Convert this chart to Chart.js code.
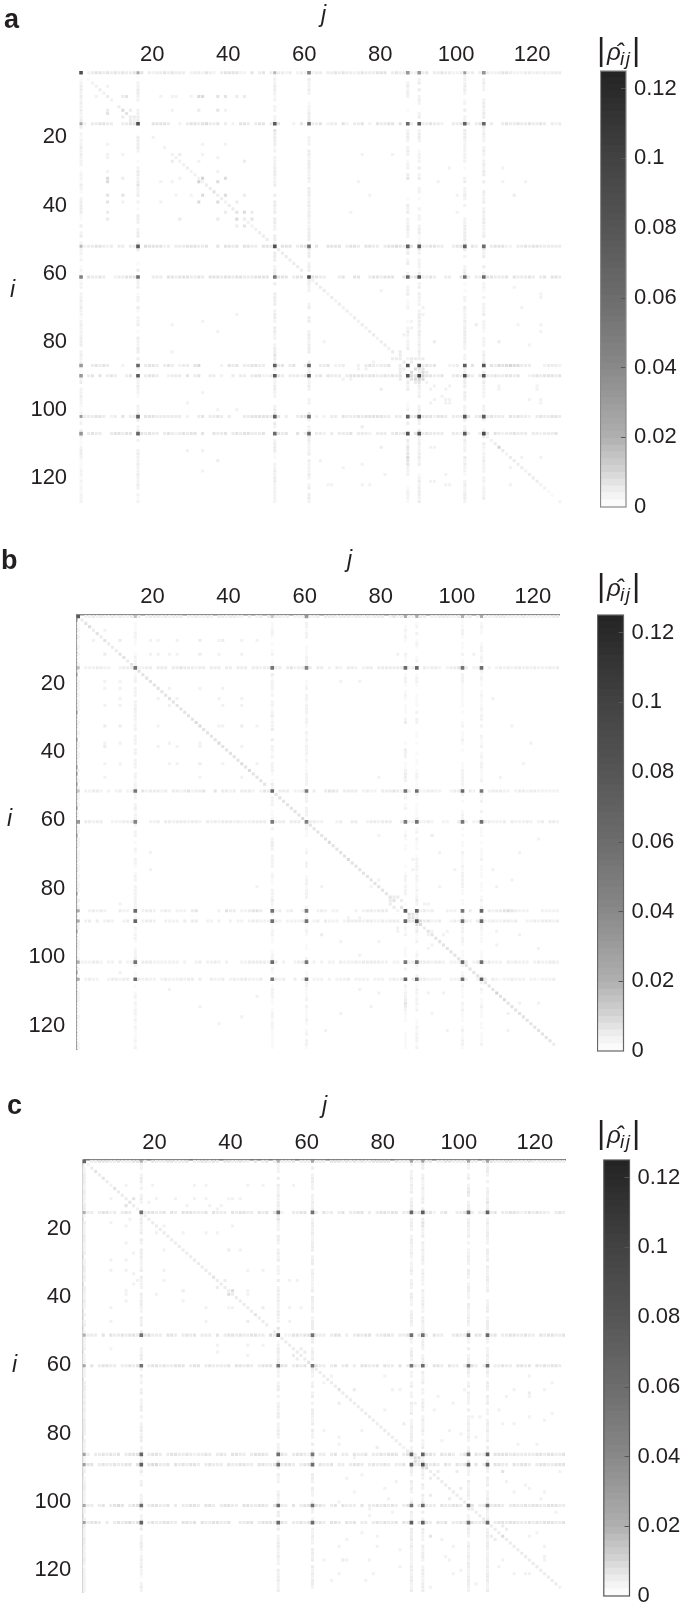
<!DOCTYPE html>
<html>
<head>
<meta charset="utf-8">
<script src="https://cdn.jsdelivr.net/npm/chart.js@4/dist/chart.umd.min.js"></script>
<style>
html,body{margin:0;padding:0;background:#fff;}
#page{position:relative;width:685px;height:1608px;overflow:hidden;font-family:"Liberation Sans",Arial,sans-serif;color:#231f20;}
canvas{position:absolute;filter:blur(0.5px);}
.letter{position:absolute;font-weight:bold;font-size:27px;line-height:27px;}
.axt{position:absolute;font-style:italic;font-size:23px;line-height:23px;}
.cbt{position:absolute;height:32px;width:44px;font-size:32px;line-height:30px;white-space:nowrap;}
.cbt span{position:absolute;}
.cbt .r{font-style:italic;font-size:24px;left:10px;top:1px;line-height:34px;}
.cbt .s{font-style:italic;font-size:19px;left:23px;top:14px;line-height:22px;letter-spacing:1.5px;}
</style>
</head>
<body>
<div id="page"></div>
<script>
// ---------- values ----------
const tickValuesX = [20, 40, 60, 80, 100, 120];
const tickValuesY = [20, 40, 60, 80, 100, 120];
const colorbarTicks = [0, 0.02, 0.04, 0.06, 0.08, 0.1, 0.12];
const colorbarMax = 0.125;
const matrixSize = 127;
const levelUnit = 0.0017;
const hubs = [1, 16, 52, 61, 87, 90, 102, 107];

// upper triangles of the hub x hub cells
const hubGridA = [
 [0.085,0.024,0.018,0.045,0.032,0.032,0.030,0.034],
 [0.085,0.075,0.058,0.062,0.075,0.070,0.065],
 [0.085,0.052,0.070,0.075,0.070,0.060],
 [0.090,0.065,0.080,0.056,0.060],
 [0.082,0.082,0.072,0.080],
 [0.092,0.085,0.080],
 [0.078,0.075],
 [0.092]];
const hubGridB = [
 [0.075,0.016,0.014,0.032,0.022,0.022,0.020,0.022],
 [0.056,0.054,0.044,0.062,0.066,0.056,0.060],
 [0.062,0.050,0.056,0.058,0.062,0.052],
 [0.046,0.050,0.056,0.052,0.058],
 [0.072,0.064,0.052,0.066],
 [0.082,0.056,0.062],
 [0.060,0.058],
 [0.068]];
const hubGridC = [
 [0.064,0.020,0.020,0.026,0.026,0.028,0.024,0.026],
 [0.058,0.056,0.056,0.066,0.072,0.062,0.070],
 [0.078,0.056,0.058,0.058,0.058,0.062],
 [0.052,0.052,0.060,0.056,0.060],
 [0.068,0.066,0.056,0.072],
 [0.082,0.062,0.068],
 [0.062,0.056],
 [0.062]];

// one line of levels per hub: the cells along its row; its column reads one level fainter
const stripesA = [
 "0023443434 3433444032 3343433302 3324320344 4422040340 3433230232 0233033434 3323433344 4034333223 3403343322 3323034322 3443222332 3232333",
 "0203344330 0334400004 4443002034 4345334030 2044303440 3440002040 0334023304 2033402043 3440403304 3343320033 4040340030 0343343343 3430323",
 "0233443230 3303300544 4423033344 4334004044 3404433044 3004440344 0040044440 3443044330 3445434400 3344330034 4304303034 4422033434 4333333",
 "0043343002 3344450003 3304434443 3430444344 3443334444 0344403440 3443300034 0044003443 4440045344 3343003300 4330334443 3340433343 0340443",
 "0003434300 0200020344 3034302330 4500000204 3403344330 0034034003 0003340223 0002034323 3400304005 3434000223 0004003043 5456553330 0023332",
 "0034040343 0034040344 3002333040 3400330200 3033034422 3343033324 0034043330 3444434433 4343400545 4443340034 3043043334 3344340023 4344434",
 "0333443023 0403300444 3333333020 0340334303 0003344444 3340300344 0020203304 3334344444 3303304343 4442443033 3040343343 3304343320 3433443",
 "0034330034 4344004343 3034323434 4040043340 3434433340 0343400403 4033203033 3403332033 3034344043 3433330033 2030033404 3233433303 3233340"];
const stripesB = [
 "0022323223 2322333023 3323233302 2322320332 3322030230 3233230222 0223033323 3323323233 3024233222 3302233322 3223023222 3332222322 2222233",
 "0022233220 0233302233 0333033433 3233033303 3033303323 3033034233 0303302032 0332023303 3333330232 0323320233 4030220020 2323233232 3222323",
 "0022332020 2302200423 3323033234 2334004033 2303332024 3003330223 0030034430 3333023220 3334324300 2233220023 3203202023 3322023323 3222222",
 "0033233002 2233340002 2303323332 3320323233 3232223333 0233303330 3332200023 0033002332 3330034233 2232002200 3220223332 2230322232 0230332",
 "0002323200 0322030233 2023202220 3400000204 3302234430 0023023002 0002320220 0002023323 3300203004 2323000222 0003002032 3345432220 0022222",
 "0023030232 0023030233 2002222030 3300220200 2022023322 2232022223 0023032220 2333323322 3232300444 4342230023 2032032223 2233230022 3233323",
 "0222332022 0302200333 2222222020 0230223202 0002233333 2230200233 0020202203 2223233333 2202203232 3332332022 2030232232 2203232220 2322332",
 "0023220023 3233003232 2023222323 3030032230 2323322230 0232300302 3022202022 2302222022 2023233032 3322220022 2020022303 2122322202 2122230"];
const stripesC = [
 "0033444334 3334443043 3344333403 3443430443 3433040340 3433340333 0333044434 3434334444 4043333333 3403344333 3333043433 3443333432 3333333",
 "0330344230 3430043443 3404304443 3340433304 3443304340 4420033440 3304230340 3344030344 3440330344 3420340033 4030330340 3344323434 3320343",
 "0333040433 4344334533 3044303434 0333040344 3433443305 3302344344 0333034403 0343440334 4303340043 3043300343 3404403340 3344334330 4344334",
 "0040344330 3343440344 3433444034 4034333340 4434303444 0344034340 4433034034 0304433404 3304034433 2044304330 3343034033 4330443404 3434430",
 "0303343434 0344430344 3034433432 3343034304 4330344430 0443034432 3033034033 0433403343 4440343305 4430434302 4304334044 4434333334 4344334",
 "0440343343 3440440455 3340434344 3034333043 3443304433 4334430344 3043340330 3443034334 3033403345 4343043043 4304034044 3304344303 4433444",
 "0330340345 4034430344 3340303344 3044303443 3044334430 4433040344 3443034043 3304033434 3430343044 3330433443 0340334344 3034334344 3344433",
 "0344303034 3453400343 3443304434 0433443340 0334403444 3343033434 0343044304 3403303434 3340433044 4304340334 3443340034 4344333434 3444334"];

// the main diagonal
const diagonalA = "0012232320 3243220002 0020222232 2223343323 3403222333 0233333330 2233323232 3232323323 3230333000 2200022200 0200000223 3323333233 3221100";
const diagonalB = "0345343433 3443404444 4444444444 4544444544 4444454444 0444444445 0444445444 4544444444 4444045444 4444444444 4044444444 4454444444 4444430";
const diagonalC = "0234343343 3343203333 3333333333 3333433333 3333343330 3333333334 0333333433 3333333333 3333033333 3333333333 3033333333 3333333333 3333320";

// isolated cells [i, j, level]
const cellsA = [[8,8,3],[8,12,3],[8,13,4],[8,33,5],[8,39,4],[8,44,3],[8,30,2],[8,26,2],[8,5,2],[12,8,3],[12,12,5],[12,14,3],[12,25,2],[12,39,2],[15,14,3],[32,8,5],[32,12,3],[32,33,6],[32,39,5],[32,27,2],[37,8,4],[37,12,4],[37,33,5],[37,39,5],[37,44,3],[37,30,2],[37,26,2],[42,8,3],[42,39,3],[42,44,5],[42,46,3],[44,46,4],[44,44,3],[22,8,2],[22,33,2],[22,39,2],[25,12,2],[25,8,2],[25,33,2],[27,44,3],[27,25,3],[33,74,2],[37,77,2],[37,100,2],[33,95,2],[29,98,2],[29,112,2],[33,112,2],[33,118,2],[25,75,2],[25,83,2],[37,115,3],[42,72,2],[42,100,2],[65,80,2],[80,111,3],[111,111,6],[111,80,3],[111,94,2],[75,105,3],[75,116,2],[75,122,2],[77,122,2],[80,94,3],[81,119,2],[93,94,2],[93,98,2],[93,111,2],[93,121,2],[97,94,2],[97,98,2],[97,119,2],[97,122,2],[115,64,2],[117,70,2],[122,66,2],[122,67,2],[121,94,2],[122,98,2],[122,114,2],[117,114,2],[122,122,2],[127,127,2],[88,89,5],[89,88,5],[91,90,6],[91,91,5],[92,90,4],[88,91,4],[89,91,5],[88,85,3],[89,85,3],[91,85,3],[89,92,3],[84,85,3],[83,85,3],[78,86,2],[86,88,3],[88,74,2],[88,76,2],[91,72,2],[91,70,2]];
const cellsB = [[8,8,4],[8,33,3],[12,12,4],[33,8,3],[33,33,5],[38,38,5],[44,44,5],[8,5,2],[8,12,2],[8,20,2],[8,27,2],[8,39,3],[8,44,2],[12,8,3],[12,20,2],[12,25,2],[12,33,2],[12,44,2],[22,8,2],[22,12,2],[22,25,2],[22,33,2],[22,39,2],[27,8,2],[27,12,2],[27,25,2],[27,39,2],[27,44,2],[33,12,3],[33,39,2],[38,8,2],[38,12,2],[38,25,2],[38,33,2],[44,8,2],[44,12,2],[44,25,2],[44,33,3],[44,39,2],[48,8,2],[48,33,2],[48,44,2],[65,94,3],[65,80,2],[70,96,2],[75,100,2],[75,110,2],[80,78,2],[80,96,2],[84,90,3],[83,85,3],[93,94,2],[93,98,2],[93,111,2],[97,94,2],[97,111,2],[111,111,6],[111,80,2],[111,90,2],[115,78,2],[117,70,2],[117,94,2],[117,114,2],[122,66,2],[122,98,2],[122,114,2],[20,70,2],[20,75,2],[25,110,2],[33,115,2],[38,120,2],[44,118,2],[12,85,2],[12,105,2],[48,80,2],[48,112,2],[88,88,5],[89,88,5],[88,89,4],[91,90,5],[91,91,5],[85,83,3],[84,83,3],[86,84,3],[89,75,2],[89,72,2],[92,92,3],[93,85,2],[92,85,2]];
const cellsC = [[14,12,4],[40,39,5],[36,38,3],[33,33,3],[8,8,2],[8,19,2],[8,33,2],[8,44,2],[8,56,2],[12,8,2],[12,20,2],[12,33,2],[12,39,2],[12,42,2],[13,18,2],[14,28,2],[14,34,2],[14,37,2],[22,20,2],[22,33,2],[25,12,2],[27,22,2],[27,39,3],[27,42,2],[30,8,2],[30,12,2],[33,8,2],[33,22,2],[33,44,2],[36,15,2],[36,22,2],[36,55,2],[36,57,2],[40,12,2],[40,20,2],[40,44,2],[44,33,2],[44,39,2],[44,55,2],[44,58,2],[48,8,2],[48,33,2],[48,44,3],[48,55,2],[55,52,2],[56,58,3],[57,59,3],[66,64,2],[68,72,3],[68,84,2],[72,88,2],[68,101,2],[68,114,2],[68,122,2],[74,80,2],[74,93,2],[76,103,2],[76,105,2],[76,118,2],[77,122,2],[78,111,2],[78,114,2],[80,64,2],[82,68,2],[85,78,3],[88,88,5],[89,88,6],[88,89,5],[91,90,5],[91,91,5],[92,94,3],[92,111,4],[92,99,3],[95,83,2],[97,100,3],[100,81,2],[108,111,3],[109,112,3],[111,111,5],[111,118,2],[114,98,2],[114,122,2],[118,64,2],[118,69,3],[118,70,2],[122,98,2],[122,114,2],[122,117,2],[122,118,2],[124,66,2],[124,75,2],[75,75,3],[70,70,3],[85,85,2],[70,94,2],[72,98,2],[74,110,2],[80,97,2],[82,104,2],[84,120,2],[95,112,2],[97,118,2],[100,121,2],[112,70,2],[115,84,2],[117,96,2],[120,110,2],[125,104,2],[126,92,2]];

// colormap of the colour bar
const colorStops = [0, 0.005, 0.01, 0.02, 0.04, 0.06, 0.08, 0.1, 0.125];
const colorGrays = [255, 236, 212, 175, 136, 108, 85, 66, 35];

// ---------- layout of the three panels ----------
const panels = [
 {letter:"a", lx:4, ly:6, jx:321, jy:3, ix:10, iy:278, labelOffset:-1, labelOffsetY:0,
  left:79.1, right:561.7, top:71, bottom:505.3, canvasTop:30, tickPadX:3, tickPadY:12, xBorder:"rgba(0,0,0,0)", yBorder:"rgba(0,0,0,0)",
  cbL:600.5, cbR:626, cbT:70.7, cbB:506.4, cbBorder:"#8a8a8a", cbtX:597, cbtY:34,
  hub:hubGridA, stripes:stripesA, diag:diagonalA, cells:cellsA},
 {letter:"b", lx:1, ly:547, jx:347, jy:548, ix:7, iy:807, labelOffset:2, labelOffsetY:2,
  left:76.3, right:559.5, top:614.8, bottom:1051.2, canvasTop:570, tickPadX:5, tickPadY:11, xBorder:"#8c8c8c", yBorder:"#8c8c8c",
  cbL:597.5, cbR:623.5, cbT:614.8, cbB:1050.7, cbBorder:"#666", cbtX:597, cbtY:570,
  hub:hubGridB, stripes:stripesB, diag:diagonalB, cells:cellsB},
 {letter:"c", lx:7, ly:1092, jx:322, jy:1094, ix:12, iy:1353, labelOffset:-2, labelOffsetY:3,
  left:82.3, right:565.5, top:1159.6, bottom:1594.6, canvasTop:1115, tickPadX:3, tickPadY:11, xBorder:"#777", yBorder:"#cfcfcf",
  cbL:603.8, cbR:629.5, cbT:1160, cbB:1595.7, cbBorder:"#555", cbtX:597, cbtY:1117,
  hub:hubGridC, stripes:stripesC, diag:diagonalC, cells:cellsC}
];
const FONT = {family:'"Liberation Sans", Arial, sans-serif', size:22};
const TEXT = "#231f20";

function grayOf(v){
  const c = Math.min(v, colorStops[colorStops.length-1]);
  for (let k = 1; k < colorStops.length; k++) {
    if (c <= colorStops[k]) {
      const t = (c - colorStops[k-1]) / (colorStops[k] - colorStops[k-1]);
      return Math.round(colorGrays[k-1] + t * (colorGrays[k] - colorGrays[k-1]));
    }
  }
  return colorGrays[colorGrays.length-1];
}
function colorOf(v){ const g = grayOf(v); return `rgb(${g},${g},${g})`; }

function buildCells(p){
  const m = new Map();
  const one = (i,j,v) => { if (v > 0 && i <= matrixSize && j <= matrixSize) m.set(i+","+j, v); };
  const both = (i,j,v) => { one(i,j,v); one(j,i,v); };
  p.stripes.forEach((line, h) => {
    const levels = line.replace(/ /g, "");
    for (let k = 0; k < levels.length; k++) {
      const level = Number(levels[k]);
      one(hubs[h], k+1, level * levelUnit);
      one(k+1, hubs[h], Math.max(level - 1, 0) * levelUnit);
    }
  });
  const d = p.diag.replace(/ /g, "");
  for (let k = 0; k < d.length; k++) one(k+1, k+1, Number(d[k]) * levelUnit);
  p.cells.forEach(c => both(c[0], c[1], c[2] * levelUnit));
  p.hub.forEach((row, a) => row.forEach((v, b) => both(hubs[a], hubs[a+b], v)));
  const out = [];
  m.forEach((v, key) => { const s = key.split(","); out.push({x:+s[1], y:+s[0], v}); });
  out.sort((a,b) => a.v - b.v);
  return out;
}

const page = document.getElementById("page");
function addCanvas(left, top, w, h){
  const c = document.createElement("canvas");
  c.width = w; c.height = h;
  c.style.left = left + "px"; c.style.top = top + "px";
  c.style.width = w + "px"; c.style.height = h + "px";
  page.appendChild(c);
  return c;
}
function addDiv(cls, x, y, html){
  const d = document.createElement("div");
  d.className = cls; d.style.left = x + "px"; d.style.top = y + "px";
  d.innerHTML = html; page.appendChild(d); return d;
}
function noPad(s){ s.paddingLeft = s.paddingRight = s.paddingTop = s.paddingBottom = 0; }
const radiusOf = ctx => (ctx.raw && ctx.raw.v > 0.03) ? 2.6 : 2.15;

panels.forEach(p => {
  // heat map
  const cw = Math.ceil(p.right) + 22;
  const ch = Math.ceil(p.bottom - p.canvasTop);
  new Chart(addCanvas(0, p.canvasTop, cw, ch), {
    type: "scatter",
    data: {datasets: [{
      data: buildCells(p),
      pointStyle: "rect",
      pointRadius: radiusOf,
      pointHoverRadius: radiusOf,
      pointBorderWidth: 0,
      backgroundColor: ctx => colorOf(ctx.raw ? ctx.raw.v : 0)
    }]},
    options: {
      responsive: false, animation: false, devicePixelRatio: 1, parsing: false, normalized: true,
      layout: {padding: {left:0, top:0, right: cw - p.right, bottom: ch - (p.bottom - p.canvasTop)}},
      plugins: {legend: {display:false}, tooltip: {enabled:false}},
      scales: {
        x: {type:"linear", position:"top", min:0.5, max:matrixSize+0.5,
            grid:{display:false, drawTicks:false},
            border:{display:true, color:p.xBorder, width:1.5},
            afterFit: s => { s.height = p.top - p.canvasTop; noPad(s); },
            afterBuildTicks: s => { s.ticks = tickValuesX.map(v => ({value:v})); },
            ticks:{autoSkip:false, maxRotation:0, minRotation:0, padding:p.tickPadX, labelOffset:p.labelOffset, font:FONT, color:TEXT, callback:v => String(v)}},
        y: {type:"linear", reverse:true, min:0.5, max:matrixSize+0.5,
            grid:{display:false, drawTicks:false},
            border:{display:true, color:p.yBorder, width:1.5},
            afterFit: s => { s.width = p.left; noPad(s); },
            afterBuildTicks: s => { s.ticks = tickValuesY.map(v => ({value:v})); },
            ticks:{autoSkip:false, padding:p.tickPadY, labelOffset:p.labelOffsetY, font:FONT, color:TEXT, callback:v => String(v)}}
      }
    }
  });

  // colour bar
  const pad = 15;
  const bands = [];
  const nBands = 64;
  for (let k = 0; k < nBands; k++) {
    const lo = colorbarMax * k / nBands, hi = colorbarMax * (k+1) / nBands;
    bands.push({data:[[lo, Math.min(colorbarMax, hi + 0.0002)]], backgroundColor:colorOf((lo+hi)/2), borderWidth:0,
                categoryPercentage:1, barPercentage:1, grouped:false});
  }
  const barCw = 685 - Math.floor(p.cbL);
  const offL = p.cbL - Math.floor(p.cbL);
  const barCh = Math.round(p.cbB - p.cbT) + 2*pad;
  new Chart(addCanvas(Math.floor(p.cbL), p.cbT - pad, barCw, barCh), {
    type: "bar",
    data: {labels:[""], datasets: bands},
    options: {
      responsive:false, animation:false, devicePixelRatio:1,
      layout:{padding:{left:offL, top:pad, bottom:pad, right:0}},
      plugins:{legend:{display:false}, tooltip:{enabled:false}},
      scales:{
        x:{display:false, stacked:false, grid:{display:false}},
        y:{position:"right", min:0, max:colorbarMax,
           grid:{display:false, drawTicks:false}, border:{display:false},
           afterFit: s => { s.width = 685 - p.cbR; noPad(s); },
           afterBuildTicks: s => { s.ticks = colorbarTicks.map(v => ({value:v})); },
           ticks:{autoSkip:false, padding:8, font:FONT, color:TEXT, callback:v => String(v)}}
      }
    },
    plugins:[{id:"frame", afterDraw(chart){
      const {ctx, chartArea:a, scales:{y}} = chart;
      ctx.save();
      ctx.strokeStyle = "#555"; ctx.lineWidth = 1;
      colorbarTicks.forEach(v => {
        if (v === 0) return;
        const py = Math.round(y.getPixelForValue(v)) + 0.5;
        ctx.beginPath(); ctx.moveTo(a.right - 5, py); ctx.lineTo(a.right, py); ctx.stroke();
      });
      ctx.strokeStyle = p.cbBorder; ctx.lineWidth = 1.2;
      ctx.strokeRect(a.left, a.top, a.right - a.left, a.bottom - a.top);
      ctx.restore();
    }}]
  });

  // texts
  addDiv("letter", p.lx, p.ly, p.letter);
  addDiv("axt", p.jx, p.jy, "j");
  addDiv("axt", p.ix, p.iy, "i");
  addDiv("cbt", p.cbtX, p.cbtY, '<span style="left:0;top:0">|</span><span class="r">\u03C1\u0302</span><span class="s">ij</span><span style="left:35px;top:0">|</span>');
});
</script>
</body>
</html>
